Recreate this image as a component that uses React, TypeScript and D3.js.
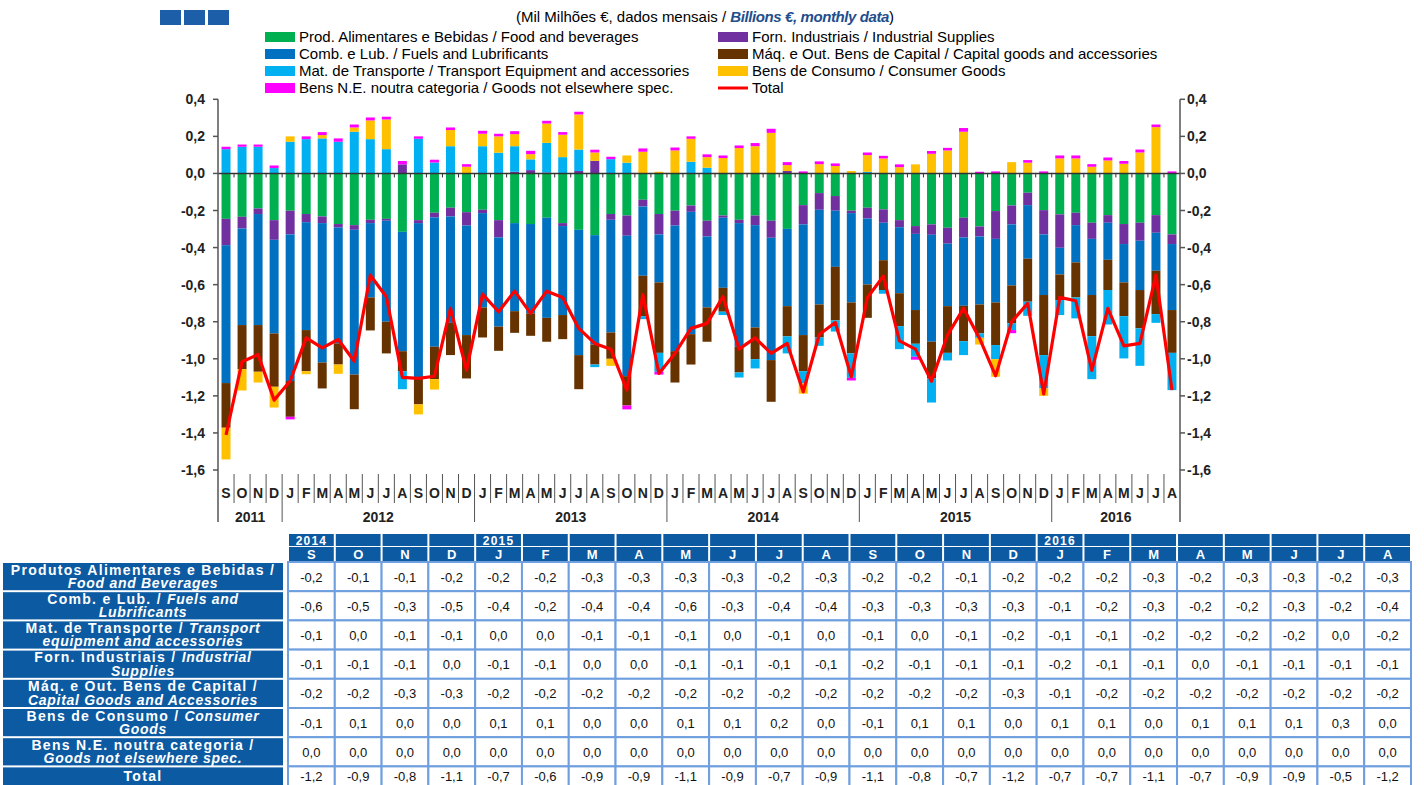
import React, { useEffect, useRef } from "react";
import * as d3 from "d3";

// months shown on the chart (Sep 2011 - Aug 2016)
const chartMonths = [
  "S", "O", "N", "D",
  "J", "F", "M", "A", "M", "J", "J", "A", "S", "O", "N", "D",
  "J", "F", "M", "A", "M", "J", "J", "A", "S", "O", "N", "D",
  "J", "F", "M", "A", "M", "J", "J", "A", "S", "O", "N", "D",
  "J", "F", "M", "A", "M", "J", "J", "A", "S", "O", "N", "D",
  "J", "F", "M", "A", "M", "J", "J", "A",
];
const years = ["2011", "2012", "2013", "2014", "2015", "2016"];
const yearSpans = [4, 12, 12, 12, 12, 8];

// contributions, billions of euro
const food = [
  -0.245, -0.234, -0.189, -0.252, -0.201, -0.219, -0.232, -0.273, -0.279, -0.25,
  -0.245, -0.315, -0.252, -0.212, -0.185, -0.209, -0.196, -0.252, -0.268, -0.273,
  -0.239, -0.268, -0.304, -0.333, -0.219, -0.227, -0.142, -0.219, -0.201, -0.173,
  -0.255, -0.227, -0.25, -0.227, -0.255, -0.299, -0.171, -0.106, -0.122, -0.201,
  -0.185, -0.194, -0.252, -0.284, -0.275, -0.293, -0.239, -0.286, -0.203, -0.173,
  -0.104, -0.198, -0.221, -0.212, -0.266, -0.225, -0.273, -0.266, -0.225, -0.329,
];
const industrial = [
  -0.142, -0.063, -0.03, -0.106, -0.128, -0.044, -0.036, -0.018, -0.025, -0.018,
  -0.01, 0.049, -0.016, -0.025, -0.047, -0.072, -0.018, -0.093, 0.009, 0.018,
  0.005, -0.016, 0.013, 0.068, -0.031, -0.109, -0.036, -0.11, -0.08, -0.034,
  -0.085, -0.012, -0.018, -0.052, -0.092, 0.013, -0.104, -0.09, -0.079, -0.013,
  -0.058, -0.072, -0.038, -0.042, -0.056, -0.086, -0.106, -0.054, -0.15, -0.102,
  -0.067, -0.131, -0.18, -0.067, -0.087, -0.041, -0.108, -0.097, -0.095, -0.052,
];
const fuels = [
  -0.744, -0.521, -0.599, -0.505, -0.791, -0.582, -0.752, -0.626, -0.781, -0.401,
  -0.545, -0.644, -0.835, -0.698, -0.574, -0.591, -0.509, -0.481, -0.475, -0.482,
  -0.54, -0.48, -0.676, -0.59, -0.608, -0.758, -0.374, -0.259, -0.678, -0.66,
  -0.383, -0.378, -0.667, -0.552, -0.66, -0.417, -0.597, -0.511, -0.303, -0.482,
  -0.356, -0.202, -0.356, -0.411, -0.577, -0.337, -0.369, -0.367, -0.343, -0.329,
  -0.289, -0.327, -0.144, -0.201, -0.303, -0.2, -0.207, -0.266, -0.205, -0.356,
];
const capital = [
  -0.241, -0.238, -0.252, -0.288, -0.193, -0.222, -0.14, -0.114, -0.187, -0.178,
  -0.171, -0.108, -0.143, -0.175, -0.174, -0.234, -0.162, -0.131, -0.117, -0.121,
  -0.129, -0.13, -0.184, -0.108, -0.142, -0.158, -0.218, -0.38, -0.169, -0.164,
  -0.185, -0.129, -0.139, -0.171, -0.225, -0.163, -0.195, -0.178, -0.289, -0.275,
  -0.18, -0.161, -0.178, -0.182, -0.198, -0.252, -0.191, -0.156, -0.23, -0.204,
  -0.232, -0.324, -0.138, -0.189, -0.222, -0.163, -0.182, -0.207, -0.234, -0.231,
];
const transport = [
  0.131, 0.144, 0.144, 0.029, 0.171, 0.185, 0.189, 0.171, 0.225, 0.185,
  0.131, -0.097, 0.187, 0.059, 0.147, 0, 0.147, 0.112, 0.138, 0.058,
  0.16, 0.088, 0.116, -0.014, 0.077, 0.058, -0.016, -0.102, 0, 0.063,
  0.031, -0.018, -0.027, -0.05, 0, -0.092, -0.066, -0.045, -0.06, -0.132,
  0.009, -0.02, -0.124, -0.07, -0.13, -0.041, -0.075, -0.024, -0.076, -0.037,
  -0.076, -0.18, -0.081, -0.113, -0.232, -0.186, -0.228, -0.202, -0.047, -0.201,
];
const consumer = [
  -0.171, -0.115, -0.058, -0.112, 0.029, -0.016, 0.018, -0.05, 0.023, 0.101,
  0.16, 0, -0.054, -0.056, 0.087, 0.036, 0.067, 0.088, 0.065, 0.028,
  0.104, 0.121, 0.189, 0.045, -0.038, 0.039, 0.117, 0.009, 0.124, 0.124,
  0.057, 0.083, 0.137, 0.147, 0.219, 0.032, -0.055, 0.05, 0.04, 0.013,
  0.09, 0.081, 0.034, 0.049, 0.106, 0.124, 0.225, -0.036, -0.095, 0.061,
  0.058, -0.04, 0.081, 0.081, 0.036, 0.07, 0.052, 0.113, 0.25, 0,
];
const notElsewhere = [
  0.013, 0.012, 0.012, 0.014, -0.014, 0.015, 0.016, 0.018, 0.016, 0.016,
  0.015, 0.018, 0.013, 0.015, 0.014, 0.014, 0.016, 0.014, 0.016, 0.018,
  0.015, 0.014, 0.015, 0.015, 0.013, -0.021, 0.018, -0.015, 0.016, 0.013,
  0.015, 0.014, 0.014, 0.017, 0.022, 0.016, 0.011, 0.015, 0.014, -0.014,
  0.014, 0.014, 0.015, -0.016, 0.015, 0.014, 0.02, 0.009, 0.011, -0.017,
  0.014, 0.011, 0.016, 0.016, 0.014, 0.016, 0.015, 0.016, 0.014, 0.011,
];
const total = [
  -1.41, -1.016, -0.977, -1.223, -1.12, -0.887, -0.941, -0.896, -1.013, -0.549,
  -0.665, -1.1, -1.106, -1.094, -0.728, -1.061, -0.651, -0.746, -0.635, -0.755,
  -0.635, -0.669, -0.836, -0.917, -0.948, -1.169, -0.653, -1.079, -0.971, -0.836,
  -0.809, -0.665, -0.948, -0.887, -0.971, -0.917, -1.178, -0.869, -0.804, -1.097,
  -0.671, -0.554, -0.903, -0.948, -1.121, -0.872, -0.728, -0.89, -1.092, -0.8,
  -0.701, -1.19, -0.669, -0.687, -1.063, -0.728, -0.93, -0.917, -0.549, -1.169,
];

const seriesKeys = ["food", "industrial", "fuels", "capital", "transport", "consumer", "ne"];
const seriesData = [food, industrial, fuels, capital, transport, consumer, notElsewhere];
const seriesColors = ["#00b050", "#7030a0", "#0070c0", "#663300", "#00b0f0", "#ffc000", "#ff00ff"];
const yTicks = [0.4, 0.2, 0, -0.2, -0.4, -0.6, -0.8, -1.0, -1.2, -1.4, -1.6];

// legend: [label, colour index or -1 for the total line]
const legendCol1 = [
  ["Prod. Alimentares e Bebidas / Food and beverages", 0],
  ["Comb. e Lub. /  Fuels and Lubrificants", 2],
  ["Mat. de Transporte / Transport Equipment and accessories", 4],
  ["Bens N.E. noutra categoria / Goods not elsewhere spec.", 6],
];
const legendCol2 = [
  ["Forn. Industriais / Industrial Supplies", 1],
  ["Máq. e Out. Bens de Capital / Capital goods and accessories", 3],
  ["Bens de Consumo / Consumer Goods", 5],
  ["Total", -1],
];

// table (Sep 2014 - Aug 2016)
const tableMonths = ["S", "O", "N", "D", "J", "F", "M", "A", "M", "J", "J", "A", "S", "O", "N", "D", "J", "F", "M", "A", "M", "J", "J", "A"];
const tableYears = [["2014", 0], ["2015", 4], ["2016", 16]];
const tableRowLabels = [
  [[["Produtos Alimentares e Bebidas /", false]], [["Food and Beverages", true]]],
  [[["Comb. e Lub. / ", false], ["Fuels and", true]], [["Lubrificants", true]]],
  [[["Mat. de Transporte / ", false], ["Transport", true]], [["equipment and accessories", true]]],
  [[["Forn. Industriais / ", false], ["Industrial", true]], [["Supplies", true]]],
  [[["Máq. e Out. Bens de Capital /", false]], [["Capital Goods and Accessories", true]]],
  [[["Bens de Consumo / ", false], ["Consumer", true]], [["Goods", true]]],
  [[["Bens N.E. noutra categoria /", false]], [["Goods not elsewhere spec.", true]]],
  [[["Total", false]]],
];
const tFood = [-0.2, -0.1, -0.1, -0.2, -0.2, -0.2, -0.3, -0.3, -0.3, -0.3, -0.2, -0.3, -0.2, -0.2, -0.1, -0.2, -0.2, -0.2, -0.3, -0.2, -0.3, -0.3, -0.2, -0.3];
const tFuels = [-0.6, -0.5, -0.3, -0.5, -0.4, -0.2, -0.4, -0.4, -0.6, -0.3, -0.4, -0.4, -0.3, -0.3, -0.3, -0.3, -0.1, -0.2, -0.3, -0.2, -0.2, -0.3, -0.2, -0.4];
const tTransport = [-0.1, 0, -0.1, -0.1, 0, 0, -0.1, -0.1, -0.1, 0, -0.1, 0, -0.1, 0, -0.1, -0.2, -0.1, -0.1, -0.2, -0.2, -0.2, -0.2, 0, -0.2];
const tIndustrial = [-0.1, -0.1, -0.1, 0, -0.1, -0.1, 0, 0, -0.1, -0.1, -0.1, -0.1, -0.2, -0.1, -0.1, -0.1, -0.2, -0.1, -0.1, 0, -0.1, -0.1, -0.1, -0.1];
const tCapital = [-0.2, -0.2, -0.3, -0.3, -0.2, -0.2, -0.2, -0.2, -0.2, -0.2, -0.2, -0.2, -0.2, -0.2, -0.2, -0.3, -0.1, -0.2, -0.2, -0.2, -0.2, -0.2, -0.2, -0.2];
const tConsumer = [-0.1, 0.1, 0, 0, 0.1, 0.1, 0, 0, 0.1, 0.1, 0.2, 0, -0.1, 0.1, 0.1, 0, 0.1, 0.1, 0, 0.1, 0.1, 0.1, 0.3, 0];
const tNE = [0, 0, 0, 0, 0, 0, 0, 0, 0, 0, 0, 0, 0, 0, 0, 0, 0, 0, 0, 0, 0, 0, 0, 0];
const tTotal = [-1.2, -0.9, -0.8, -1.1, -0.7, -0.6, -0.9, -0.9, -1.1, -0.9, -0.7, -0.9, -1.1, -0.8, -0.7, -1.2, -0.7, -0.7, -1.1, -0.7, -0.9, -0.9, -0.5, -1.2];
const tableRows = [tFood, tFuels, tTransport, tIndustrial, tCapital, tConsumer, tNE, tTotal];

const fmt = (v: number) => d3.format(".1f")(v).replace("−", "-").replace(".", ",");

const App = () => {
  const ref = useRef<SVGSVGElement>(null);

  useEffect(() => {
    const svg = d3.select(ref.current);
    svg.selectAll("*").remove();

    const width = 1424;
    const height = 785;
    svg.attr("width", width).attr("height", height)
      .attr("font-family", "'Liberation Sans', Arial, sans-serif");

    const left = 218, right = 1180;
    const x = d3.scaleBand<number>()
      .domain(d3.range(chartMonths.length))
      .range([left, right])
      .paddingInner(0.44)
      .paddingOuter(0.22);
    const step = x.step();
    const y = d3.scaleLinear().domain([-1.6, 0.4]).range([470, 99.3]);

    // blue squares + title
    svg.append("g").selectAll("rect").data([0, 1, 2]).join("rect")
      .attr("x", d => 160 + d * 24).attr("y", 10).attr("width", 21).attr("height", 15)
      .attr("fill", "#1c5ea8");

    const title = svg.append("text").attr("x", 705).attr("y", 22)
      .attr("text-anchor", "middle").attr("font-size", 15);
    title.append("tspan").text("(Mil Milhões €, dados mensais / ");
    title.append("tspan").attr("fill", "#1f4e8c").attr("font-weight", "bold").attr("font-style", "italic")
      .attr("letter-spacing", -0.4).text("Billions  €, monthly data");
    title.append("tspan").text(")");

    // legend
    const drawLegend = (items: any[], x0: number) => {
      const g = svg.append("g");
      items.forEach(([label, ci], i) => {
        const cy = 37 + i * 17;
        if (ci >= 0) {
          g.append("rect").attr("x", x0).attr("y", cy - 5).attr("width", 30).attr("height", 10)
            .attr("fill", seriesColors[ci]);
        } else {
          g.append("line").attr("x1", x0).attr("x2", x0 + 30).attr("y1", cy).attr("y2", cy)
            .attr("stroke", "#ff0000").attr("stroke-width", 3);
        }
        g.append("text").attr("x", x0 + 34).attr("y", cy + 5).attr("font-size", 15).text(label);
      });
    };
    drawLegend(legendCol1, 265);
    drawLegend(legendCol2, 718);

    // stacked bars
    const rows = chartMonths.map((_, i) => {
      const r: any = {};
      seriesKeys.forEach((k, s) => { r[k] = seriesData[s][i]; });
      return r;
    });
    const layers = d3.stack().keys(seriesKeys).offset(d3.stackOffsetDiverging)(rows);

    svg.append("g").selectAll("g").data(layers).join("g")
      .attr("fill", (_, i) => seriesColors[i])
      .selectAll("rect").data(d => d).join("rect")
      .attr("x", (_, i) => x(i)!)
      .attr("width", x.bandwidth())
      .attr("y", d => y(Math.max(d[0], d[1])))
      .attr("height", d => Math.abs(y(d[0]) - y(d[1])));

    // zero line with small ticks
    const axisColor = "#555";
    svg.append("line").attr("x1", left).attr("x2", right).attr("y1", y(0)).attr("y2", y(0))
      .attr("stroke", "#333").attr("stroke-width", 1.5);
    svg.append("g").selectAll("line").data(d3.range(1, chartMonths.length)).join("line")
      .attr("x1", d => left + d * step).attr("x2", d => left + d * step)
      .attr("y1", y(0)).attr("y2", y(0) + 4)
      .attr("stroke", "#333").attr("stroke-width", 1);

    // total line
    svg.append("path")
      .datum(total)
      .attr("fill", "none").attr("stroke", "#ff0000").attr("stroke-width", 3.2)
      .attr("stroke-linejoin", "round")
      .attr("d", d3.line<number>().x((_, i) => x(i)! + x.bandwidth() / 2).y(d => y(d)));

    // left / right axes
    svg.append("line").attr("x1", left).attr("x2", left).attr("y1", y(0.4)).attr("y2", 522)
      .attr("stroke", axisColor).attr("stroke-width", 1.5);
    svg.append("line").attr("x1", right).attr("x2", right).attr("y1", y(0.4)).attr("y2", 522)
      .attr("stroke", axisColor).attr("stroke-width", 1.5);
    const ticks = svg.append("g");
    yTicks.forEach(t => {
      ticks.append("line").attr("x1", left - 5).attr("x2", left).attr("y1", y(t)).attr("y2", y(t))
        .attr("stroke", axisColor).attr("stroke-width", 1.5);
      ticks.append("line").attr("x1", right).attr("x2", right + 5).attr("y1", y(t)).attr("y2", y(t))
        .attr("stroke", axisColor).attr("stroke-width", 1.5);
      ticks.append("text").attr("x", 205).attr("y", y(t) + 5).attr("text-anchor", "end")
        .attr("font-size", 14).attr("font-weight", "bold").attr("fill", "#222").text(fmt(t));
      ticks.append("text").attr("x", 1187).attr("y", y(t) + 5)
        .attr("font-size", 14).attr("font-weight", "bold").attr("fill", "#222").text(fmt(t));
    });

    // month / year category axis
    const yearStarts = d3.cumsum([0, ...yearSpans]);
    const cat = svg.append("g");
    d3.range(1, chartMonths.length).forEach(i => {
      const isYear = yearStarts.includes(i);
      cat.append("line").attr("x1", left + i * step).attr("x2", left + i * step)
        .attr("y1", 474).attr("y2", isYear ? 522 : 503)
        .attr("stroke", axisColor).attr("stroke-width", 1);
    });
    chartMonths.forEach((m, i) => {
      cat.append("text").attr("x", x(i)! + x.bandwidth() / 2).attr("y", 498)
        .attr("text-anchor", "middle").attr("font-size", 14).attr("font-weight", "bold")
        .attr("fill", "#222").text(m);
    });
    years.forEach((yr, k) => {
      const cx = left + (yearStarts[k] + yearSpans[k] / 2) * step;
      cat.append("text").attr("x", cx).attr("y", 522).attr("text-anchor", "middle")
        .attr("font-size", 14).attr("font-weight", "bold").attr("fill", "#222").text(yr);
    });

    // table
    const navy = "#0b5aa2";
    const tx = d3.scaleBand<number>().domain(d3.range(tableMonths.length)).range([288, 1411]);
    const ty = d3.scaleBand<number>().domain(d3.range(tableRows.length)).range([562, 562 + 8 * 29.2]);
    const tbl = svg.append("g");

    tableMonths.forEach((m, j) => {
      tbl.append("rect").attr("x", tx(j)! + 1).attr("y", 534).attr("width", tx.bandwidth() - 2)
        .attr("height", 12).attr("fill", navy);
      tbl.append("rect").attr("x", tx(j)! + 1).attr("y", 547).attr("width", tx.bandwidth() - 2)
        .attr("height", 14).attr("fill", navy);
      tbl.append("text").attr("x", tx(j)! + tx.bandwidth() / 2).attr("y", 559)
        .attr("text-anchor", "middle").attr("font-size", 13).attr("font-weight", "bold")
        .attr("fill", "white").text(m);
    });
    tableYears.forEach(([yr, j]: any) => {
      tbl.append("text").attr("x", tx(j)! + tx.bandwidth() / 2).attr("y", 545)
        .attr("text-anchor", "middle").attr("font-size", 12).attr("font-weight", "bold")
        .attr("letter-spacing", 1.2).attr("fill", "white").text(yr);
    });

    tableRows.forEach((vals, r) => {
      const top = ty(r)!;
      const h = ty.bandwidth();
      const isTotal = r === tableRows.length - 1;
      tbl.append("rect").attr("x", 3).attr("y", top + 1).attr("width", 280).attr("height", h - 2)
        .attr("fill", navy);
      const lines = tableRowLabels[r] as any[];
      lines.forEach((segs, li) => {
        const baseY = lines.length === 1 ? top + 15 : top + 12.5 + li * 13.5;
        const t = tbl.append("text").attr("x", 143).attr("y", baseY).attr("text-anchor", "middle")
          .attr("font-size", 14).attr("font-weight", "bold").attr("fill", "white");
        segs.forEach(([s, it]: any) => {
          t.append("tspan").attr("font-style", it ? "italic" : "normal")
            .attr("letter-spacing", it ? 0.7 : 1.3).text(s);
        });
      });
      vals.forEach((v, j) => {
        tbl.append("rect").attr("x", tx(j)!).attr("y", top).attr("width", tx.bandwidth())
          .attr("height", h).attr("fill", "white").attr("stroke", "#6f9fdf").attr("stroke-width", 2);
        tbl.append("text").attr("x", tx(j)! + tx.bandwidth() / 2).attr("y", isTotal ? top + 15 : top + h / 2 + 5)
          .attr("text-anchor", "middle").attr("font-size", 13).attr("fill", "#111").text(fmt(v));
      });
    });
  }, []);

  return <svg ref={ref} style={{ position: "absolute", left: 0, top: 0 }}></svg>;
};

export default App;
